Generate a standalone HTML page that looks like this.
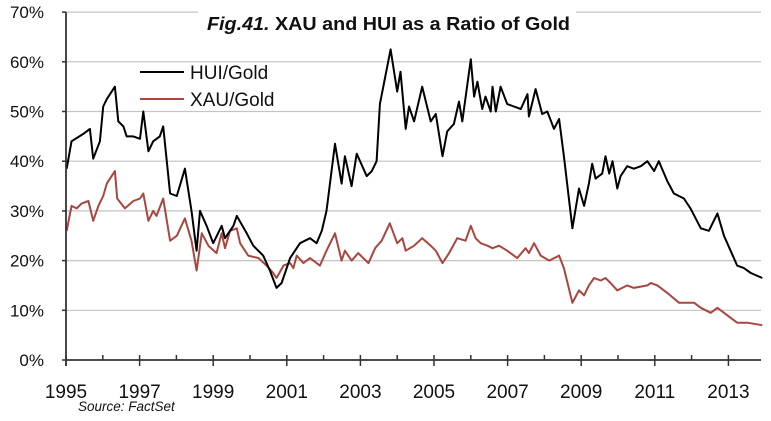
<!DOCTYPE html>
<html><head><meta charset="utf-8"><style>
body{margin:0;background:#fff;}
svg{display:block;font-family:"Liberation Sans",sans-serif;}
</style></head><body>
<svg id="chart" width="771" height="421" viewBox="0 0 771 421">
<rect width="771" height="421" fill="#fff"/>
<g id="grid"></g>
<g id="series"></g>
<g id="axes"></g>
<rect x="198" y="2" width="378" height="26" fill="#fff"/>
<text x="207" y="30" textLength="363" lengthAdjust="spacingAndGlyphs" font-size="18" font-weight="bold" fill="#111"><tspan font-style="italic">Fig.41.</tspan> XAU and HUI as a Ratio of Gold</text>
<g>
<line x1="140" y1="72" x2="184" y2="72" stroke="#000" stroke-width="2"/>
<text x="190" y="79" font-size="19" fill="#111">HUI/Gold</text>
<line x1="140" y1="99" x2="184" y2="99" stroke="#a8463f" stroke-width="2"/>
<text x="190" y="106" font-size="19" fill="#111">XAU/Gold</text>
</g>
<text x="78" y="411" font-size="13.5" font-style="italic" fill="#111">Source: FactSet</text>
</svg>
<script>
const yTicks=[0,10,20,30,40,50,60,70];
const xTickYears=[1995,1997,1999,2001,2003,2005,2007,2009,2011,2013];
const huiYears=[1995.02,1995.15,1995.47,1995.65,1995.74,1995.92,1996.01,1996.11,1996.33,1996.42,1996.56,1996.65,1996.83,1997.01,1997.10,1997.24,1997.37,1997.55,1997.64,1997.83,1998.01,1998.23,1998.41,1998.55,1998.64,1998.82,1999.00,1999.23,1999.32,1999.55,1999.64,1999.91,2000.09,2000.36,2000.54,2000.72,2000.86,2001.09,2001.36,2001.63,2001.81,2001.95,2002.08,2002.31,2002.49,2002.58,2002.76,2002.90,2003.17,2003.31,2003.44,2003.53,2003.82,2004.00,2004.09,2004.23,2004.32,2004.46,2004.68,2004.91,2005.05,2005.23,2005.36,2005.54,2005.68,2005.77,2006.00,2006.09,2006.18,2006.31,2006.40,2006.54,2006.59,2006.68,2006.81,2006.99,2007.17,2007.36,2007.54,2007.58,2007.76,2007.94,2008.08,2008.26,2008.40,2008.53,2008.76,2008.94,2009.08,2009.21,2009.30,2009.39,2009.57,2009.66,2009.76,2009.85,2009.98,2010.07,2010.25,2010.43,2010.62,2010.80,2010.98,2011.11,2011.34,2011.52,2011.79,2011.97,2012.25,2012.47,2012.70,2012.88,2013.24,2013.42,2013.61,2013.92];
const huiValues=[38.5,44,45.5,46.5,40.5,44,51,52.5,55,48,47,45,45,44.5,50,42,44,45,47,33.5,33,38.5,30,22,30,27,23.5,27,24.5,27,29,25.5,23,21,18,14.5,15.5,20.5,23.5,24.5,23.5,26,30,43.5,35.5,41,35,41.5,37,38,40,51.5,62.5,54,58,46.5,51,48,55,48,49.5,41,46,47.5,52,48,60.5,53,56,50.5,53,50,55,50,55,51.5,51,50.5,53.5,49,54.5,49.5,50,46.5,48.5,41,26.5,34.5,31,35.5,39.5,36.5,37.5,41,37.5,40,34.5,37,39,38.5,39,40,38,40,36,33.5,32.5,30.5,26.5,26,29.5,25,19,18.5,17.5,16.5];
const xauYears=[1995.02,1995.15,1995.29,1995.43,1995.61,1995.74,1995.88,1996.01,1996.11,1996.33,1996.39,1996.60,1996.83,1997.01,1997.10,1997.24,1997.37,1997.46,1997.64,1997.83,1998.01,1998.23,1998.41,1998.55,1998.69,1998.87,1999.09,1999.23,1999.32,1999.46,1999.64,1999.73,1999.95,2000.23,2000.45,2000.63,2000.72,2000.91,2001.09,2001.18,2001.27,2001.45,2001.63,2001.90,2002.08,2002.31,2002.49,2002.58,2002.76,2002.94,2003.22,2003.40,2003.58,2003.80,2004.00,2004.14,2004.23,2004.46,2004.68,2004.91,2005.05,2005.23,2005.41,2005.63,2005.86,2006.00,2006.13,2006.27,2006.45,2006.59,2006.77,2006.99,2007.26,2007.49,2007.58,2007.72,2007.90,2008.13,2008.40,2008.53,2008.76,2008.94,2009.08,2009.21,2009.35,2009.53,2009.66,2009.80,2009.98,2010.25,2010.43,2010.80,2010.89,2011.07,2011.34,2011.66,2012.07,2012.25,2012.52,2012.70,2012.97,2013.24,2013.51,2013.92];
const xauValues=[26,31,30.5,31.5,32,28,31,33,35.5,38,32.5,30.5,32,32.5,33.5,28,30,29,32.5,24,25,28.5,24,18,25.5,23,21.5,25.5,22.5,26,26.5,23.5,21,20.5,19,17.5,16.5,19,19.5,18.5,21,19.5,20.5,19,22,25.5,20,22,20,21.5,19.5,22.5,24,27.5,23.5,24.5,22,23,24.5,23,22,19.5,21.5,24.5,24,27,24.5,23.5,23,22.5,23,22,20.5,22.5,21.5,23.5,21,20,21,18.5,11.5,14,13,15,16.5,16,16.5,15.5,14,15,14.5,15,15.5,15,13.5,11.5,11.5,10.5,9.5,10.5,9,7.5,7.5,7];

const NS='http://www.w3.org/2000/svg';
const X0=66,XR=761,PXY=36.8,Y0=360,PXV=4.97;
const xs=y=>X0+(y-1995)*PXY;
const ys=v=>Y0-v*PXV;
function mk(tag,attrs,parent,txt){const e=document.createElementNS(NS,tag);for(const k in attrs)e.setAttribute(k,attrs[k]);if(txt!==undefined)e.textContent=txt;parent.appendChild(e);return e;}
const grid=document.getElementById('grid'),axes=document.getElementById('axes'),ser=document.getElementById('series');
yTicks.forEach(t=>{
  if(t>0){const g=mk('line',{x1:X0,x2:XR,y1:ys(t),y2:ys(t),stroke:'#c4c4c4','stroke-width':1.2},grid);
  
  }
  const l=mk('text',{x:44,y:ys(t)+6,'text-anchor':'end','font-size':17,fill:'#111'},axes,t+'%');
  
  
  const tk=mk('line',{x1:X0-4,x2:X0,y1:ys(t),y2:ys(t),stroke:'#333','stroke-width':1.5},axes);
  
  
});
const ya=mk('line',{x1:X0,x2:X0,y1:ys(70),y2:Y0+6,stroke:'#333','stroke-width':1.8},axes);


const xa=mk('line',{x1:X0,x2:XR,y1:Y0,y2:Y0,stroke:'#333','stroke-width':1.8},axes);


for(let yr=1995;yr<=2013;yr++){
  const major=xTickYears.includes(yr);
  const tk=mk('line',{x1:xs(yr),x2:xs(yr),y1:Y0-5,y2:major?Y0+6:Y0,stroke:'#333','stroke-width':1.5},axes);
  
  
}
xTickYears.forEach(yr=>{
  const l=mk('text',{x:xs(yr),y:398,'text-anchor':'middle','font-size':19,fill:'#111'},axes,String(yr));
  
  
});
function path(xsA,vs){return xsA.map((y,i)=>(i?'L':'M')+xs(y).toFixed(1)+' '+ys(vs[i]).toFixed(1)).join(' ');}
const px=mk('path',{d:path(xauYears,xauValues),fill:'none',stroke:'#a8463f','stroke-width':2,'stroke-linejoin':'round'},ser);


const ph=mk('path',{d:path(huiYears,huiValues),fill:'none',stroke:'#000','stroke-width':2,'stroke-linejoin':'round'},ser);


</script>
</body></html>
